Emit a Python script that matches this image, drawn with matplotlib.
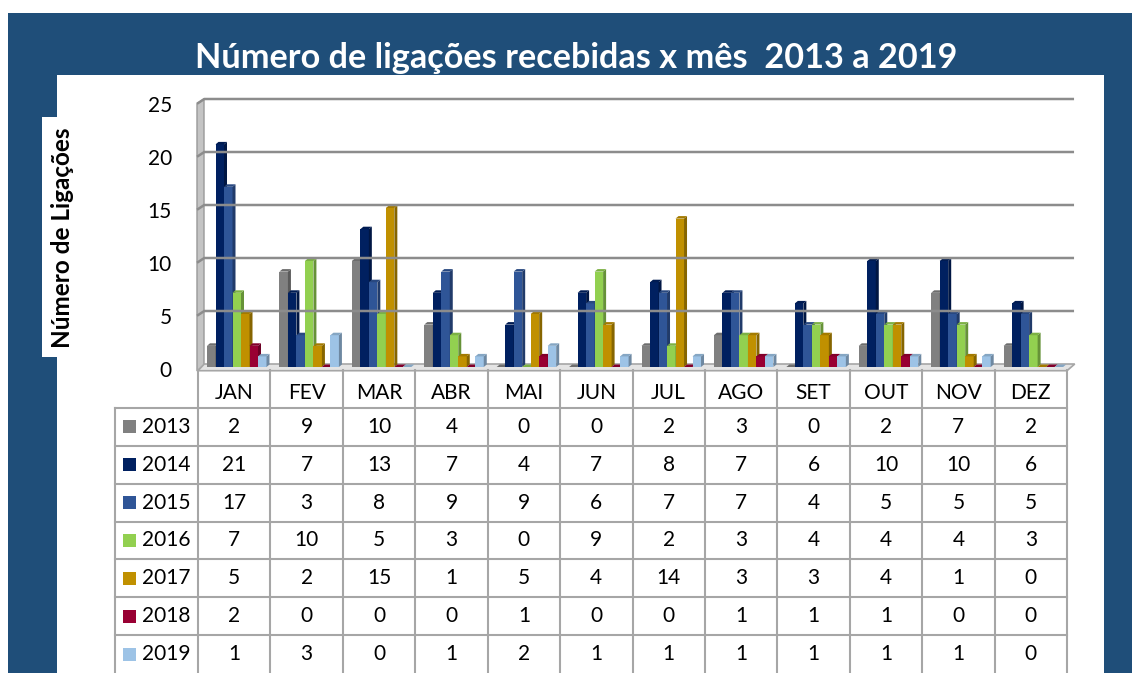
#!/usr/bin/env python3
"""Monthly received calls 2013-2019: pseudo-3D column chart with a data table."""

import matplotlib
matplotlib.use("Agg")
import matplotlib.pyplot as plt
from matplotlib.patches import Polygon, Rectangle
from matplotlib.colors import to_rgb

plt.rcParams["font.family"] = ["Lato", "DejaVu Sans"]

TITLE = "Número de ligações recebidas x mês  2013 a 2019"
YLABEL = "Número de Ligações"
MONTHS = ["JAN", "FEV", "MAR", "ABR", "MAI", "JUN",
          "JUL", "AGO", "SET", "OUT", "NOV", "DEZ"]
YEARS = ["2013", "2014", "2015", "2016", "2017", "2018", "2019"]

CALLS_2013 = [2, 9, 10, 4, 0, 0, 2, 3, 0, 2, 7, 2]
CALLS_2014 = [21, 7, 13, 7, 4, 7, 8, 7, 6, 10, 10, 6]
CALLS_2015 = [17, 3, 8, 9, 9, 6, 7, 7, 4, 5, 5, 5]
CALLS_2016 = [7, 10, 5, 3, 0, 9, 2, 3, 4, 4, 4, 3]
CALLS_2017 = [5, 2, 15, 1, 5, 4, 14, 3, 3, 4, 1, 0]
CALLS_2018 = [2, 0, 0, 0, 1, 0, 0, 1, 1, 1, 0, 0]
CALLS_2019 = [1, 3, 0, 1, 2, 1, 1, 1, 1, 1, 1, 0]
SERIES = [CALLS_2013, CALLS_2014, CALLS_2015, CALLS_2016,
          CALLS_2017, CALLS_2018, CALLS_2019]

Y_TICKS = [0, 5, 10, 15, 20, 25]

COLORS = ["#808080", "#002060", "#2F5597", "#92D050",
          "#C09000", "#990033", "#9DC3E6"]
FRAME_BLUE = "#1F4E79"
GRID_GRAY = "#8C8C8C"
TABLE_GRAY = "#A6A6A6"

W, H = 1132, 673
# pixel anchors of the plot
X0, SX = 198.0, 72.42      # x=0 of the category axis, px per category
Y0, SY = 367.0, 10.6       # value 0 on the front plane, px per call
BACK_DX, BACK_DY = 7.0, 3.0
BAR_W = 8.5
BAR_START = 9.0
DEPTH_X, DEPTH_Y = 3.0, 2.5


def shade(color, factor):
    r, g, b = to_rgb(color)
    return (r * factor, g * factor, b * factor)


def px_x(px):
    return (px - X0) / SX


def px_y(py):
    return (Y0 - py) / SY


fig = plt.figure(figsize=(W / 100, H / 100), dpi=100)
fig.patch.set_facecolor("white")

# background: blue frame, white panel, y-label box
bg = fig.add_axes([0, 0, 1, 1])
bg.set_xlim(0, W)
bg.set_ylim(H, 0)
bg.axis("off")
bg.add_patch(Rectangle((8, 13), W - 8, H - 13, facecolor=FRAME_BLUE, edgecolor="none"))
bg.add_patch(Rectangle((57, 75), 1104 - 57, H - 75, facecolor="white", edgecolor="none"))
bg.add_patch(Rectangle((42, 117), 40, 240, facecolor="white", edgecolor="none"))
bg.text(576, 68, TITLE, color="white", fontsize=24.7, fontweight="bold",
        ha="center", va="baseline")
bg.text(63, 238, YLABEL, rotation=90, fontsize=17.5, fontweight="bold",
        ha="center", va="center", color="black")

# chart area
left, right, top, bottom = 150, 1095, 88, 380
ax = fig.add_axes([left / W, 1 - bottom / H, (right - left) / W, (bottom - top) / H])
ax.set_xlim(px_x(left), px_x(right))
ax.set_ylim(px_y(bottom), px_y(top))
ax.axis("off")

bdx, bdy = BACK_DX / SX, BACK_DY / SY
# left wall
ax.add_patch(Polygon([(px_x(197), px_y(371)), (px_x(204), px_y(365)),
                      (px_x(204), Y_TICKS[-1] + bdy), (px_x(197), Y_TICKS[-1] + bdy - 0.45)],
                     closed=True, facecolor="#C4C4C4", edgecolor="#999999", lw=1.0))
# floor
ax.add_patch(Polygon([(px_x(198), -0.35), (12, -0.35), (12 + bdx + 0.01, bdy),
                      (bdx - 0.01, bdy)],
                     closed=True, facecolor="#E4E4E4", edgecolor=TABLE_GRAY, lw=1.2))
# gridlines on the back wall
for v in Y_TICKS[1:]:
    ax.plot([px_x(197), bdx - 0.01, 12 + bdx], [v + bdy - 0.45, v + bdy, v + bdy],
            color=GRID_GRAY, lw=1.8, solid_capstyle="butt")
for v in Y_TICKS:
    ax.text(px_x(172), v - 0.35, str(v), ha="right", va="center", fontsize=15)

bw = BAR_W / SX
dx, dy = DEPTH_X / SX, DEPTH_Y / SY
for m in range(len(MONTHS)):
    for j, values in enumerate(SERIES):
        v = values[m]
        x = m + BAR_START / SX + j * bw
        c = COLORS[j]
        ax.add_patch(Rectangle((x, 0), bw, v, facecolor=c, edgecolor="none"))
        ax.add_patch(Polygon([(x + bw, 0), (x + bw + dx, dy), (x + bw + dx, v + dy), (x + bw, v)],
                             closed=True, facecolor=shade(c, 0.7), edgecolor="none"))
        ax.add_patch(Polygon([(x, v), (x + dx, v + dy), (x + bw + dx, v + dy), (x + bw, v)],
                             closed=True, facecolor=shade(c, 0.85), edgecolor="none"))

# data table
t_left, t_top, t_bottom = 115, 370, 673
leg_w = (X0 - t_left) / SX
tab = fig.add_axes([t_left / W, 0, (X0 + 12 * SX - t_left) / W, (t_bottom - t_top) / H])
tab.set_xlim(-leg_w, 12)
tab.set_ylim(len(YEARS) + 1, 0)
tab.axis("off")

n_rows = len(YEARS) + 1
for r in range(1, n_rows):
    tab.plot([-leg_w, 12], [r, r], color=TABLE_GRAY, lw=1.5, clip_on=False)
tab.plot([-leg_w, -leg_w], [1, n_rows], color=TABLE_GRAY, lw=1.5, clip_on=False)
for cx in range(0, 13):
    tab.plot([cx, cx], [0, n_rows], color=TABLE_GRAY, lw=1.5, clip_on=False)

for m, month in enumerate(MONTHS):
    tab.text(m + 0.5, 0.6, month, ha="center", va="center", fontsize=15)

sq_w, sq_h = 13 / SX, 13 / ((t_bottom - t_top) / n_rows)
for j, (year, values) in enumerate(zip(YEARS, SERIES)):
    row_c = j + 1.5
    tab.add_patch(Rectangle((px_x(123), row_c - sq_h / 2), sq_w, sq_h,
                            facecolor=COLORS[j], edgecolor="none"))
    tab.text(px_x(142), row_c, year, ha="left", va="center", fontsize=15)
    for m, v in enumerate(values):
        tab.text(m + 0.5, row_c, str(v), ha="center", va="center", fontsize=15)

fig.savefig("out.png", dpi=100)
